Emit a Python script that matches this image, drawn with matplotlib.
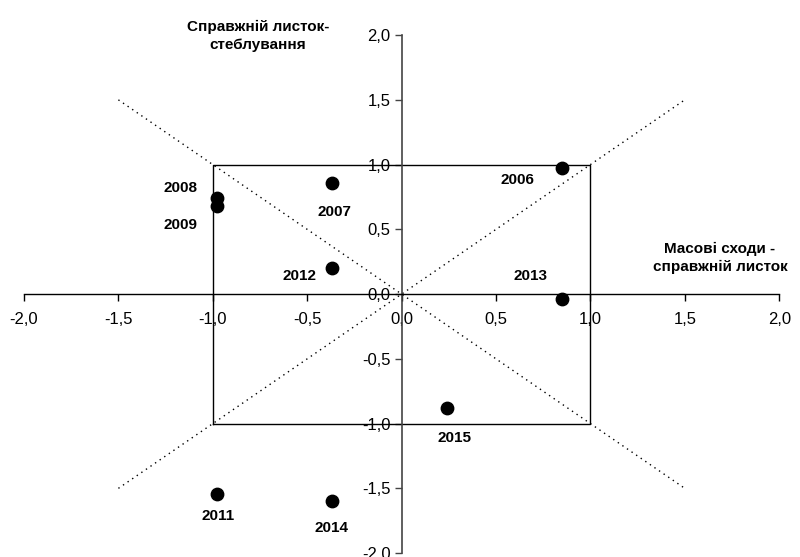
import matplotlib.pyplot as plt
from matplotlib.ticker import FuncFormatter

plt.rcParams['font.family'] = ['Liberation Sans', 'DejaVu Sans']

# дані
years = ["2006", "2007", "2008", "2009", "2011", "2012", "2013", "2014", "2015"]
x_vals = [0.85, -0.37, -0.98, -0.98, -0.98, -0.37, 0.85, -0.37, 0.24]
y_vals = [0.97, 0.86, 0.74, 0.68, -1.54, 0.20, -0.04, -1.60, -0.88]
# зсув підписів у пікселях (dx, dy)
label_offsets = {
    "2006": (-45, -12), "2007": (3, -29), "2008": (-36, 10), "2009": (-36, -19),
    "2011": (1, -22), "2012": (-32, -8), "2013": (-32, 23), "2014": (0, -27),
    "2015": (8, -30),
}
ticks = [-2.0, -1.5, -1.0, -0.5, 0.0, 0.5, 1.0, 1.5, 2.0]

fig = plt.figure(figsize=(8, 5.57), dpi=100)
ax = fig.add_axes([0.03, 0.007, 0.944, 0.93])
ax.set_xlim(-2, 2)
ax.set_ylim(-2, 2)

# осі через нуль
ax.spines['left'].set_position(('data', 0))
ax.spines['bottom'].set_position(('data', 0))
ax.spines['right'].set_visible(False)
ax.spines['top'].set_visible(False)
ax.spines['left'].set_color('#444444')
ax.spines['left'].set_linewidth(1.2)
ax.spines['bottom'].set_linewidth(1.0)
ax.set_xticks(ticks)
ax.set_yticks(ticks)
fmt = FuncFormatter(lambda v, p: f"{v:.1f}".replace('.', ','))
ax.xaxis.set_major_formatter(fmt)
ax.yaxis.set_major_formatter(fmt)
ax.tick_params(axis='both', direction='out', length=5, labelsize=12, width=1)
ax.tick_params(axis='x', pad=8)
ax.tick_params(axis='y', color='#444444', pad=3)

# прямокутник і діагоналі
ax.plot([-1, 1, 1, -1, -1], [-1, -1, 1, 1, -1], color='black', lw=1)
ax.plot([-1.5, 1.5], [1.5, -1.5], color='black', lw=1, linestyle=(0, (1, 3)))
ax.plot([-1.5, 1.5], [-1.5, 1.5], color='black', lw=1, linestyle=(0, (1, 3)))

# точки
ax.scatter(x_vals, y_vals, s=80, color='black', zorder=5)
for yr, xv, yv in zip(years, x_vals, y_vals):
    dx, dy = label_offsets[yr]
    ax.annotate(yr, (xv, yv), xytext=(dx * 0.72, dy * 0.72), textcoords='offset points',
                ha='center', va='center', fontsize=11, fontweight='bold')

# назви осей
fig.text(0.3225, 0.935, "Справжній листок-\nстеблування", ha='center', va='center',
         fontsize=11, fontweight='bold', linespacing=1.35)
fig.text(0.9, 0.537, "Масові сходи -\nсправжній листок", ha='center', va='center',
         fontsize=11, fontweight='bold', linespacing=1.35)

plt.savefig("out.png", dpi=100)
plt.close()
